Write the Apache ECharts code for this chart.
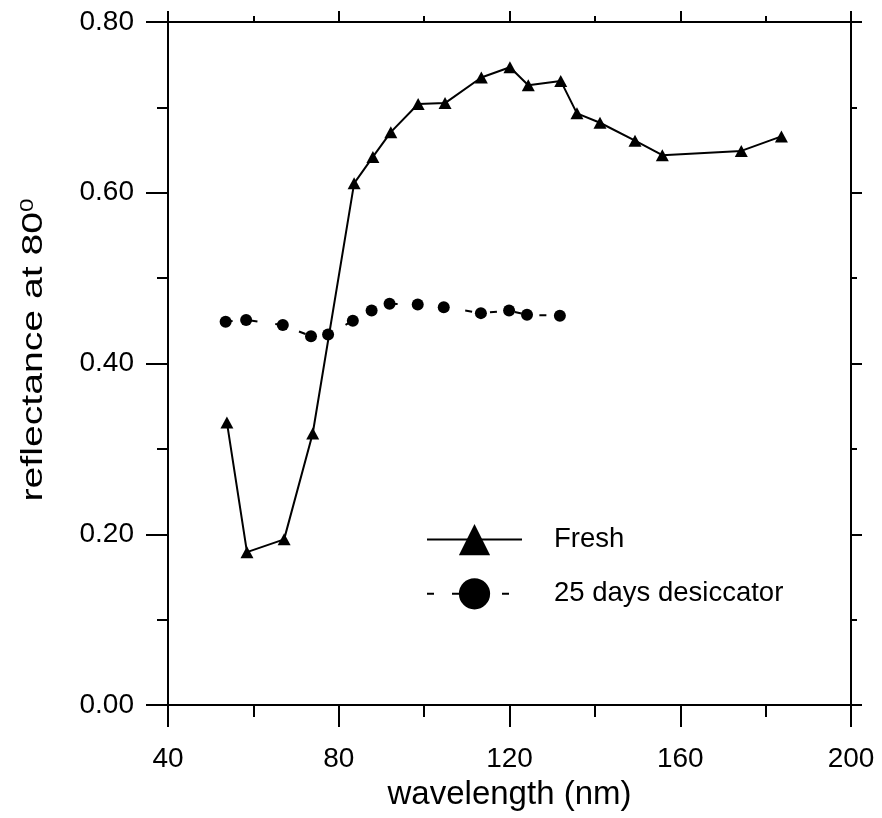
<!DOCTYPE html>
<html>
<head>
<meta charset="utf-8">
<script src="https://cdn.jsdelivr.net/npm/echarts@6/dist/echarts.min.js"></script>
<style>
html,body{margin:0;padding:0;background:#fff;}
#c{width:882px;height:818px;}
</style>
</head>
<body>
<div id="c"></div>
<script>
// Data
const freshWavelength = [53.8, 58.5, 67.2, 73.9, 83.6, 88.0, 92.2, 98.6, 104.9, 113.4, 120.1, 124.4, 132.0, 135.8, 141.2, 149.4, 155.8, 174.3, 183.7];
const freshReflectance = [0.331, 0.179, 0.194, 0.318, 0.611, 0.642, 0.671, 0.704, 0.705, 0.735, 0.747, 0.726, 0.731, 0.693, 0.682, 0.661, 0.644, 0.649, 0.666];
const desWavelength = [53.5, 58.3, 66.9, 73.5, 77.5, 83.3, 87.7, 91.9, 98.5, 104.6, 113.3, 119.9, 124.1, 131.8];
const desReflectance = [0.449, 0.451, 0.445, 0.432, 0.434, 0.450, 0.462, 0.470, 0.469, 0.466, 0.459, 0.462, 0.457, 0.456];
const seriesNames = ['Fresh', '25 days desiccator'];
const xTitle = 'wavelength (nm)';
const yTitleMain = 'reflectance at 80';
const yTitleSup = '0';

const FONT = 'Liberation Sans, Arial, Helvetica, sans-serif';
const pairs = (xs, ys) => xs.map((x, i) => [x, ys[i]]);

const chart = echarts.init(document.getElementById('c'), null, {renderer: 'canvas'});

const axisCommon = {
  axisLine: {onZero: false, lineStyle: {color: '#000', width: 2}},
  splitLine: {show: false},
  minorSplitLine: {show: false}
};

chart.setOption({
  animation: false,
  backgroundColor: '#fff',
  grid: {left: 168, right: 31, top: 22, bottom: 113, containLabel: false, outerBoundsMode: 'none'},
  legend: {
    orient: 'vertical',
    left: 426,
    top: 524,
    padding: 0,
    itemWidth: 95,
    itemHeight: 39,
    itemGap: 23,
    data: seriesNames,
    textStyle: {fontFamily: FONT, fontSize: 27.5, color: '#000', padding: [0, 0, 0, 27]}
  },
  graphic: [{
    type: 'text',
    x: 34,
    y: 350,
    rotation: Math.PI / 2,
    scaleX: 1.35,
    scaleY: 1,
    style: {
      text: '{a|' + yTitleMain + '}{s|' + yTitleSup + '}',
      textAlign: 'center',
      textVerticalAlign: 'middle',
      fill: '#000',
      rich: {
        a: {fontFamily: FONT, fontSize: 29, fill: '#000', color: '#000'},
        s: {fontFamily: FONT, fontSize: 18, fill: '#000', color: '#000', verticalAlign: 'top'}
      }
    }
  }],
  xAxis: [
    Object.assign({}, axisCommon, {
      type: 'value', position: 'bottom', min: 40, max: 200, interval: 40,
      axisTick: {inside: false, length: 22, lineStyle: {color: '#000', width: 2}},
      minorTick: {show: true, splitNumber: 2, length: 12, lineStyle: {color: '#000', width: 2}},
      axisLabel: {fontFamily: FONT, fontSize: 28, color: '#000', margin: 40},
      name: xTitle, nameLocation: 'middle', nameGap: 73,
      nameTextStyle: {fontFamily: FONT, fontSize: 33, color: '#000'}
    }),
    Object.assign({}, axisCommon, {
      type: 'value', position: 'top', min: 40, max: 200, interval: 40,
      axisTick: {inside: false, length: 11, lineStyle: {color: '#000', width: 2}},
      minorTick: {show: true, splitNumber: 2, length: 6, lineStyle: {color: '#000', width: 2}},
      axisLabel: {show: false}
    })
  ],
  yAxis: [
    Object.assign({}, axisCommon, {
      type: 'value', position: 'left', min: 0, max: 0.8, interval: 0.2,
      axisTick: {inside: false, length: 22, lineStyle: {color: '#000', width: 2}},
      minorTick: {show: true, splitNumber: 2, length: 11, lineStyle: {color: '#000', width: 2}},
      axisLabel: {fontFamily: FONT, fontSize: 28, color: '#000', margin: 34, formatter: v => v.toFixed(2)}
    }),
    Object.assign({}, axisCommon, {
      type: 'value', position: 'right', min: 0, max: 0.8, interval: 0.2,
      axisTick: {inside: false, length: 11, lineStyle: {color: '#000', width: 2}},
      minorTick: {show: true, splitNumber: 2, length: 6, lineStyle: {color: '#000', width: 2}},
      axisLabel: {show: false}
    })
  ],
  series: [
    {
      name: seriesNames[0], type: 'line', xAxisIndex: 0, yAxisIndex: 0,
      data: pairs(freshWavelength, freshReflectance),
      symbol: 'triangle', symbolSize: [13, 12], showAllSymbol: true,
      lineStyle: {color: '#000', width: 2, type: 'solid'},
      itemStyle: {color: '#000', borderWidth: 0},
      z: 3
    },
    {
      name: seriesNames[1], type: 'line', xAxisIndex: 0, yAxisIndex: 0,
      data: pairs(desWavelength, desReflectance),
      symbol: 'circle', symbolSize: 12, showAllSymbol: true,
      lineStyle: {color: '#000', width: 2, type: [7, 18]},
      itemStyle: {color: '#000', borderWidth: 0},
      z: 2
    }
  ]
});
</script>
</body>
</html>
